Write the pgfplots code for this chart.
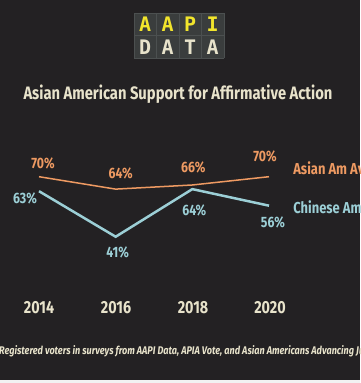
\documentclass[border=0pt]{standalone}
\usepackage{pgfplots}
\pgfplotsset{compat=1.18}
\usepackage{fontspec}
\setmainfont[FakeStretch=0.82]{Fira Sans}
\newfontfamily\logofont{DejaVu Sans Mono}
\definecolor{bg}{HTML}{232123}
\definecolor{orng}{HTML}{EE9A62}
\definecolor{blu}{HTML}{9CCFD6}
\definecolor{cream}{HTML}{E8E3CB}
\definecolor{tile}{HTML}{3A3D3D}
\definecolor{tileline}{HTML}{4C5050}
\definecolor{ylw}{HTML}{F2E52C}
\begin{document}
\begin{tikzpicture}[x=1pt,y=1pt]
\useasboundingbox (0,0) rectangle (360,383);
\clip (0,0) rectangle (360,383);
\fill[bg] (0,0) rectangle (360,383);
\fill[white!90!gray] (0,0) rectangle (360,2.5);
% logo
\fill[tile] (134,325) rectangle (224,370);
\foreach \i in {0,1,2,3,4} {\draw[tileline,line width=0.6] (134+22.5*\i,325) -- (134+22.5*\i,370);}
\foreach \j in {0,1,2} {\draw[tileline,line width=0.6] (134,325+22.5*\j) -- (224,325+22.5*\j);}
\foreach \l [count=\i from 0] in {A,A,P,I} {\node[text=ylw,font=\logofont\bfseries\fontsize{20}{20}\selectfont] at (145.25+22.5*\i,358.5) {\l};}
\foreach \l [count=\i from 0] in {D,A,T,A} {\node[text=cream,font=\logofont\bfseries\fontsize{20}{20}\selectfont] at (145.25+22.5*\i,336) {\l};}
% title
\node[text=cream,font=\bfseries\fontsize{18}{21}\selectfont] at (178,289) {Asian American Support for Affirmative Action};
\begin{axis}[
  at={(39pt,123.5pt)}, anchor=south west,
  scale only axis, width=230pt, height=103.5pt,
  xmin=2014, xmax=2020, ymin=30, ymax=80,
  axis lines=none, clip=false,
]
\addplot[orng, line width=1.5pt] coordinates {(2014,70) (2016,64) (2018,66) (2020,70)};
\addplot[blu, line width=2.5pt] coordinates {(2014,63) (2016,41) (2018,64) (2020,56)};
\begin{scope}[font=\bfseries\fontsize{15}{17}\selectfont]
\node[text=orng] at (axis cs:2014,70) [xshift=4pt,yshift=13.7pt] {70\%};
\node[text=orng] at (axis cs:2016,64) [xshift=5pt,yshift=16pt] {64\%};
\node[text=orng] at (axis cs:2018,66) [xshift=1pt,yshift=18pt] {66\%};
\node[text=orng] at (axis cs:2020,70) [xshift=-4pt,yshift=20pt] {70\%};
\node[text=blu] at (axis cs:2014,63) [xshift=-14pt,yshift=-7pt] {63\%};
\node[text=blu] at (axis cs:2016,41) [xshift=2pt,yshift=-16pt] {41\%};
\node[text=blu] at (axis cs:2018,64) [xshift=2pt,yshift=-21pt] {64\%};
\node[text=blu] at (axis cs:2020,56) [xshift=4pt,yshift=-17pt] {56\%};
\end{scope}
\begin{scope}[font=\bfseries\fontsize{15.8}{18}\selectfont]
\node[text=orng,anchor=west,inner sep=0pt] at (axis cs:2020.63,73.2) {Asian Am Avg.};
\node[text=blu,anchor=west,inner sep=0pt] at (axis cs:2020.63,55.4) {Chinese Americans};
\end{scope}
\end{axis}
% years
\foreach \x/\y in {39/2014,116/2016,193/2018,270/2020} {\node[text=cream,font=\bfseries\fontsize{17.5}{20}\selectfont] at (\x,75) {\y};}
% footnote
\node[text=cream,anchor=west,inner sep=0pt,font=\bfseries\itshape\fontsize{11.1}{13}\selectfont] at (-1,32) {Registered voters in surveys from AAPI Data, APIA Vote, and Asian Americans Advancing Justice};
\end{tikzpicture}
\end{document}
